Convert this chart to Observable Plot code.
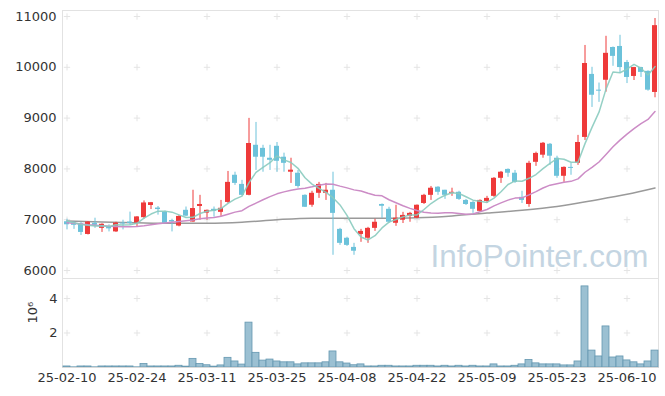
<!DOCTYPE html>
<html><head><meta charset="utf-8">
<script src="https://cdn.jsdelivr.net/npm/d3@7"></script>
<script src="https://cdn.jsdelivr.net/npm/@observablehq/plot@0.6"></script>
<style>
body{margin:0;background:#fff;}
#chart{width:665px;height:396px;overflow:hidden;}
#chart svg{display:block;}
</style></head><body><div id="chart"></div>
<script>
const dates = ["25-02-10","25-02-11","25-02-12","25-02-13","25-02-14","25-02-17","25-02-18","25-02-19","25-02-20","25-02-21",
"25-02-24","25-02-25","25-02-26","25-02-27","25-02-28","25-03-04","25-03-05","25-03-06","25-03-07","25-03-10",
"25-03-11","25-03-12","25-03-13","25-03-14","25-03-17","25-03-18","25-03-19","25-03-20","25-03-21","25-03-24",
"25-03-25","25-03-26","25-03-27","25-03-28","25-03-31","25-04-01","25-04-02","25-04-03","25-04-04","25-04-07",
"25-04-08","25-04-09","25-04-10","25-04-11","25-04-14","25-04-15","25-04-16","25-04-17","25-04-18","25-04-21",
"25-04-22","25-04-23","25-04-24","25-04-25","25-04-28","25-04-29","25-04-30","25-05-02","25-05-07","25-05-08",
"25-05-09","25-05-12","25-05-13","25-05-14","25-05-15","25-05-16","25-05-19","25-05-20","25-05-21","25-05-22",
"25-05-23","25-05-26","25-05-27","25-05-28","25-05-29","25-05-30","25-06-02","25-06-04","25-06-05","25-06-09",
"25-06-10","25-06-11","25-06-12","25-06-13","25-06-16"];
const open = [6960,6935,6920,6710,6930,6830,6860,6760,6935,6955,
6935,7040,7280,7230,7150,6985,6875,7185,6955,7260,
7130,7205,7145,7340,7875,7695,7480,8465,8405,8210,
8445,8230,7935,7915,7480,7285,7520,7520,7580,6810,
6635,6455,6710,6635,6830,7300,7205,6930,6990,7065,
7030,7320,7480,7640,7580,7520,7540,7380,7340,7165,
7360,7460,7815,7990,7915,7440,7300,8130,8270,8485,
8210,7855,8030,8110,8620,9860,9550,9745,10390,10410,
10095,9820,9995,9920,9505];
const high = [7010,6960,6950,6960,7030,6920,6900,6950,6990,7150,
7060,7370,7340,7260,7170,7010,7080,7250,7580,7480,
7190,7250,7380,7950,7935,7775,8995,8915,8465,8465,
8520,8310,8210,7970,7490,7560,7735,7715,7935,6830,
6655,6535,6810,6850,7010,7310,7245,7285,7145,7145,
7290,7500,7655,7650,7580,7620,7560,7400,7360,7390,
7460,7830,7950,8000,7970,7560,8150,8330,8520,8500,
8250,8040,8110,8660,10430,10000,9690,10610,10400,10630,
10135,10000,10000,9930,10960];
const low = [6800,6810,6690,6700,6830,6750,6760,6750,6800,6890,
6860,7010,7200,7090,6920,6760,6860,7060,6950,6990,
6990,7050,7065,7320,7675,7470,7470,7970,7935,7970,
7935,7935,7715,7620,7240,7245,7420,7380,6300,6495,
6475,6300,6555,6535,6770,7025,6925,6870,6925,6950,
7020,7300,7380,7480,7400,7460,7380,7280,7125,7150,
7320,7440,7715,7835,7715,7320,7245,8050,8210,8070,
7815,7735,7875,8070,8560,9210,9310,9510,10020,9880,
9680,9740,9800,9530,9400];
const close = [6900,6890,6750,6955,6890,6910,6820,6935,6915,6925,
7055,7330,7335,7200,6925,6955,7065,7070,7220,7300,
7185,7165,7225,7735,7715,7480,8500,8230,8230,8170,
8150,8110,7975,7655,7245,7520,7695,7580,7125,6535,
6495,6380,6770,6830,6950,7265,6950,7030,7085,7125,
7285,7480,7620,7540,7480,7540,7400,7300,7205,7380,
7420,7815,7935,7915,7735,7380,8110,8305,8505,8250,
7855,8030,8010,8520,10075,9450,9530,10275,10215,9995,
9800,9995,9900,9550,10820];
const volume = [60000,10000,60000,60000,10000,60000,60000,60000,60000,60000,
10000,200000,60000,60000,60000,60000,100000,50000,500000,200000,
130000,50000,120000,560000,350000,170000,2600000,850000,400000,460000,
350000,300000,300000,180000,240000,240000,240000,300000,930000,300000,
230000,130000,180000,60000,60000,100000,100000,60000,60000,60000,
100000,100000,100000,60000,100000,60000,100000,60000,100000,60000,
60000,180000,60000,60000,100000,180000,440000,240000,180000,180000,
180000,120000,120000,350000,4700000,980000,640000,2380000,580000,640000,
410000,300000,180000,350000,980000];
const ma5Head = [6975,6940,6905,6890];
const ma20Head = [6940,6930,6915,6900,6890,6880,6870,6865,6860,6860,6865,6880,6900,6920,6935,6950,6965,6980,6995];
// long moving average (gray)
const longMaDates = ["25-02-10","25-02-17","25-02-24","25-03-04","25-03-11","25-03-18","25-03-25","25-04-01","25-04-08","25-04-15","25-04-22","25-04-29","25-05-09","25-05-16","25-05-23","25-05-30","25-06-10","25-06-16"];
const longMaValues = [6975,6955,6940,6930,6930,6950,7000,7030,7030,7030,7040,7075,7130,7185,7260,7375,7500,7625];
const xTicks = dates.filter((d, i) => i % 10 === 0);
const priceTicks = [6000,7000,8000,9000,10000,11000];
const volumeTicks = [2000000,4000000];

const UP = "#ee3a3a", DOWN = "#6cc2da";
const FONT = "'DejaVu Sans', sans-serif";
const rows = dates.map((d, i) => ({date: d, open: open[i], high: high[i], low: low[i], close: close[i], volume: volume[i],
  color: close[i] >= open[i] ? UP : DOWN}));
const maRows = dates.map((d, i) => ({date: d,
  ma5: i < 4 ? ma5Head[i] : d3.mean(close.slice(i - 4, i + 1)),
  ma20: i < 19 ? ma20Head[i] : d3.mean(close.slice(i - 19, i + 1))}));
const longRows = longMaDates.map((d, i) => ({date: d, v: longMaValues[i]}));
const gridMain = xTicks.flatMap(x => priceTicks.map(y => ({x, y})));
const gridVol = xTicks.flatMap(x => volumeTicks.map(y => ({x, y})));

const xScale = {type: "band", domain: dates, paddingInner: 0, paddingOuter: 0};
const style = {fontFamily: FONT, fontSize: "12px", color: "#333", background: "#fff", overflow: "visible"};

const main = Plot.plot({
  width: 665, height: 279, marginLeft: 62, marginRight: 7, marginTop: 10, marginBottom: 1,
  style,
  x: {...xScale, axis: null},
  y: {domain: [5843, 11118], axis: null},
  marks: [
    Plot.frame({stroke: "#e2e2e2"}),
    Plot.axisY(priceTicks, {tickSize: 0, tickPadding: 6, label: null, tickFormat: d => String(d), fontSize: 13}),
    Plot.dot(gridMain, {x: "x", y: "y", symbol: "plus", r: 2.2, stroke: "#e4e4e4", strokeWidth: 1}),
    Plot.text(["InfoPointer.com"], {frameAnchor: "bottom-right", textAnchor: "end", lineAnchor: "bottom", dx: -10, dy: -12,
      fontSize: 32, fontFamily: "'Liberation Sans', sans-serif", fill: "#c4d5e2", className: "wm"}),
    Plot.line(longRows, {x: "date", y: "v", stroke: "#9a9a9a", strokeWidth: 1.5, curve: "monotone-x"}),
    Plot.ruleX(rows, {x: "date", y1: "low", y2: "high", stroke: "color", strokeWidth: 1}),
    Plot.barY(rows, {x: "date", y1: "open", y2: "close", fill: "color", insetLeft: 1, insetRight: 1}),
    Plot.line(maRows, {x: "date", y: "ma20", stroke: "#cc8cc6", strokeWidth: 1.5}),
    Plot.line(maRows, {x: "date", y: "ma5", stroke: "#8acbbf", strokeWidth: 1.5, strokeOpacity: 0.9})
  ]
});

const vol = Plot.plot({
  width: 665, height: 117, marginLeft: 62, marginRight: 7, marginTop: 0, marginBottom: 29,
  style,
  x: {...xScale, axis: null},
  y: {domain: [0, 5100000], axis: null},
  marks: [
    Plot.frame({anchor: "left", stroke: "#e2e2e2"}),
    Plot.frame({anchor: "right", stroke: "#e2e2e2"}),
    Plot.axisX(xTicks, {tickSize: 0, tickPadding: 5, label: null, fontSize: 13}),
    Plot.axisY(volumeTicks, {tickSize: 0, tickPadding: 5, label: null, tickFormat: d => String(d / 1e6), fontSize: 13}),
    Plot.dot(gridVol, {x: "x", y: "y", symbol: "plus", r: 2.2, stroke: "#e4e4e4", strokeWidth: 1}),
    Plot.barY(rows, {x: "date", y: "volume", fill: "#9bc0d2", stroke: "#6497b0", strokeWidth: 0.8}),
    Plot.ruleY([0], {stroke: "#d8d8d8"}),
    Plot.text(["10⁶"], {frameAnchor: "left", dx: -30, rotate: -90, fontSize: 13, fill: "#333"})
  ]
});

const el = document.getElementById("chart");
el.appendChild(main);
el.appendChild(vol);
d3.select(main).selectAll("g.wm text").attr("textLength", 218).attr("lengthAdjust", "spacingAndGlyphs");
</script></body></html>
